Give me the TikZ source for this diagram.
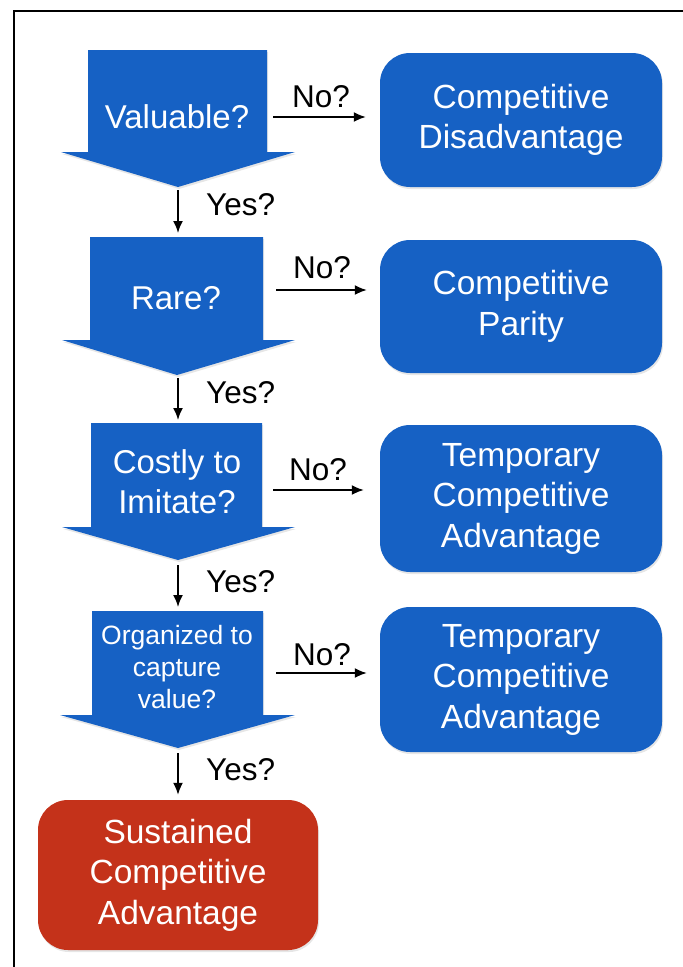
\documentclass[tikz,border=0pt]{standalone}
\usepackage{fontspec}
\setmainfont{Liberation Sans}
\usetikzlibrary{arrows.meta,shadows}
\definecolor{decblue}{RGB}{22,97,196}
\definecolor{endred}{RGB}{196,50,26}
\begin{document}
\begin{tikzpicture}[x=1pt,y=-1pt,
  qshape/.style={fill=decblue, drop shadow={opacity=0.2,shadow xshift=1pt,shadow yshift=-2pt}},
  qtext/.style={text=white, align=center, font=\fontsize{33}{40}\selectfont},
  qsmall/.style={text=white, align=center, font=\fontsize{26.5}{32}\selectfont},
  outcome/.style={fill=decblue, rounded corners=30pt, text=white, align=center,
    font=\fontsize{33.5}{40.5}\selectfont, minimum width=282pt, inner sep=0pt,
    drop shadow={opacity=0.2,shadow xshift=1pt,shadow yshift=-2pt}},
  final/.style={outcome, fill=endred},
  lbl/.style={font=\fontsize{31.5}{36}\selectfont, inner sep=0pt},
  flow/.style={line width=1.8pt, -{Latex[length=12pt,width=10pt]}}
]
\useasboundingbox (0,0) rectangle (683,967);
% frame
\draw[line width=2pt] (14,967) -- (14,11) -- (683,11);

% decision arrows
\path[qshape] (88,50) -- (267,50) -- (267,152) -- (295,152) -- (178,187) -- (61,152) -- (88,152) -- cycle;
\path[qshape] (90,237) -- (263,237) -- (263,340) -- (295,340) -- (177,375) -- (62,340) -- (90,340) -- cycle;
\path[qshape] (91,423) -- (262,423) -- (262,527) -- (295,527) -- (178,560) -- (62,527) -- (91,527) -- cycle;
\path[qshape] (92,611) -- (263,611) -- (263,715) -- (295,715) -- (178,748) -- (60,715) -- (92,715) -- cycle;

\node[qtext] (q1) at (177,117) {Valuable?};
\node[qtext] (q2) at (176,298) {Rare?};
\node[qtext] (q3) at (177,482) {Costly to\\Imitate?};
\node[qsmall] (q4) at (177,667) {Organized to\\capture\\value?};

% tips and tops of the decision arrows
\coordinate (tip1) at (178,190);
\coordinate (top2) at (178,233);
\coordinate (tip2) at (178,378);
\coordinate (top3) at (178,420);
\coordinate (tip3) at (178,565);
\coordinate (top4) at (178,607);
\coordinate (tip4) at (178,753);

% outcomes
\node[outcome, minimum height=134pt] (o1) at (521,120) {Competitive\\Disadvantage};
\node[outcome, minimum height=133pt] (o2) at (521,306.5) {Competitive\\Parity};
\node[outcome, minimum height=147pt] (o3) at (521,498.5) {Temporary\\Competitive\\Advantage};
\node[outcome, minimum height=145pt] (o4) at (521,679.5) {Temporary\\Competitive\\Advantage};
\node[final, minimum width=280pt, minimum height=150pt] (o5) at (178,875) {Sustained\\Competitive\\Advantage};

% start points of the "No?" branches
\coordinate (n1) at (273,117);
\coordinate (n2) at (276,290);
\coordinate (n3) at (273,490);
\coordinate (n4) at (276,673);

% "Yes?" connectors
\draw[flow] (tip1) -- (top2);
\draw[flow] (tip2) -- (top3);
\draw[flow] (tip3) -- (top4);
\draw[flow, shorten >=5pt] (tip4) -- (o5.north);

\node[lbl, anchor=west] (y1) at (206,205) {Yes?};
\node[lbl, anchor=west] (y2) at (206,393) {Yes?};
\node[lbl, anchor=west] (y3) at (206,582) {Yes?};
\node[lbl, anchor=west] (y4) at (206,770) {Yes?};

% "No?" connectors
\draw[flow, shorten >=14pt] (n1) -- (n1 -| o1.west);
\draw[flow, shorten >=13pt] (n2) -- (n2 -| o2.west);
\draw[flow, shorten >=16pt] (n3) -- (n3 -| o3.west);
\draw[flow, shorten >=13pt] (n4) -- (n4 -| o4.west);

\node[lbl] (no1) at (321,97) {No?};
\node[lbl] (no2) at (322,268) {No?};
\node[lbl] (no3) at (318,470) {No?};
\node[lbl] (no4) at (322,655) {No?};
\end{tikzpicture}
\end{document}
